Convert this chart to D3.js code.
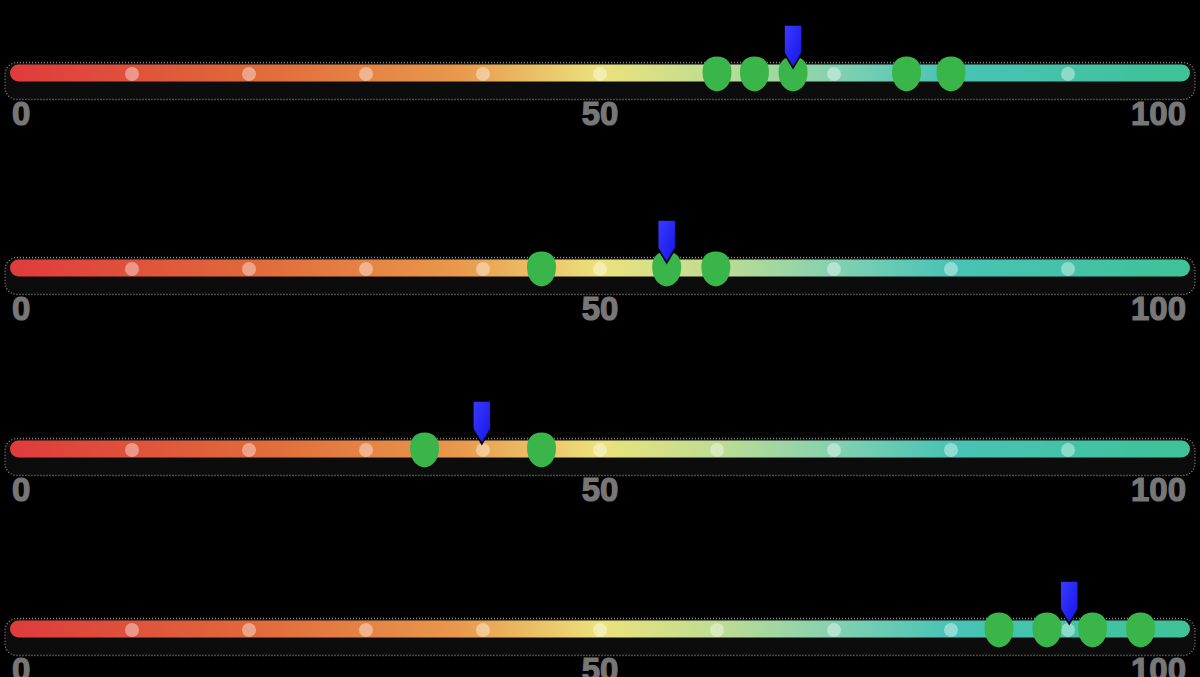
<!DOCTYPE html>
<html>
<head>
<meta charset="utf-8">
<script src="https://cdn.jsdelivr.net/npm/d3@7"></script>
<style>
  html, body { margin: 0; padding: 0; background: #000; }
  #gauges { width: 1200px; height: 677px; }
</style>
</head>
<body>
<div id="gauges"></div>
<script>

// ------------------------ data ------------------------------

var rowNames = ["row1", "row2", "row3", "row4"];
var greenMarkers = [
	[60, 63.2, 66.5, 76.2, 80],
	[45, 55.7, 59.9],
	[35, 45],
	[84.1, 88.2, 92.1, 96.2]
];
var bluePointers = [66.5, 55.7, 39.9, 90.1];
var dotValues = [10, 20, 30, 40, 50, 60, 70, 80, 90];
var tickLabels = [0, 50, 100];
var gradientStops = [
	{ offset: 0,    colour: "#df3c3c" },
	{ offset: 0.2,  colour: "#e0683a" },
	{ offset: 0.38, colour: "#e9994c" },
	{ offset: 0.5,  colour: "#ece27c" },
	{ offset: 0.6,  colour: "#bfdd92" },
	{ offset: 0.7,  colour: "#84d1b1" },
	{ offset: 0.8,  colour: "#48c3b6" },
	{ offset: 1,    colour: "#3fc298" }
];

// ------------------------ gauges ------------------------------

var build_gauges = function() {

	var width = 1200, height = 677;
	var barHeight = 17;

	var svg = d3.select("#gauges").append("svg")
			.attr("width", width)
			.attr("height", height)
			.attr("viewBox", "0 0 " + width + " " + height);

	// set the ranges
	var x = d3.scaleLinear().domain([0, 100]).range([15, 1185]);
	var rowY = [73, 268, 449, 629];   // rows are not evenly spaced in the original

	var defs = svg.append("defs");
	var grad = defs.append("linearGradient")
			.attr("id", "bar-grad")
			.attr("gradientUnits", "userSpaceOnUse")
			.attr("x1", x(0)).attr("x2", x(100)).attr("y1", 0).attr("y2", 0);
	grad.selectAll("stop")
			.data(gradientStops)
			.enter().append("stop")
				.attr("offset", function(d) { return d.offset; })
				.attr("stop-color", function(d) { return d.colour; });

	var blueGrad = defs.append("linearGradient")
			.attr("id", "blue-grad")
			.attr("x1", 0).attr("x2", 1).attr("y1", 0).attr("y2", 1);
	blueGrad.append("stop").attr("offset", 0).attr("stop-color", "#3b3bff");
	blueGrad.append("stop").attr("offset", 1).attr("stop-color", "#1414e6");

	var rows = svg.selectAll(".gauge")
			.data(rowNames)
			.enter().append("g")
			.attr("class", "gauge")
			.attr("transform", function(d, i) { return "translate(0," + rowY[i] + ")"; });

	// speckled shadow band behind the bar
	rows.append("rect")
			.attr("x", x(0) - 10)
			.attr("y", -barHeight / 2 - 2)
			.attr("width", x(100) - x(0) + 20)
			.attr("height", barHeight + 20)
			.attr("rx", 12)
			.attr("fill", "#0c0c0c")
			.attr("stroke", "#e0e0e0")
			.attr("stroke-opacity", 0.6)
			.attr("stroke-width", 1.3)
			.attr("stroke-dasharray", "1,2");

	// the gradient bar
	rows.append("rect")
			.attr("x", x(0) - 5)
			.attr("y", -barHeight / 2)
			.attr("width", x(100) - x(0) + 10)
			.attr("height", barHeight)
			.attr("rx", barHeight / 2)
			.attr("fill", "url(#bar-grad)");

	// the pale dots every 10
	rows.selectAll(".dot")
			.data(dotValues)
			.enter().append("circle")
				.attr("class", "dot")
				.attr("cx", function(d) { return x(d); })
				.attr("cy", 1)
				.attr("r", 7)
				.attr("fill", "#fff")
				.attr("fill-opacity", 0.4);

	// labels
	rows.selectAll(".lbl")
			.data(tickLabels)
			.enter().append("text")
				.attr("class", "lbl")
				.attr("x", function(d) { return d === 0 ? x(d) - 3 : d === 100 ? x(d) + 1 : x(d); })
				.attr("y", 52)
				.attr("text-anchor", function(d) { return d === 0 ? "start" : d === 100 ? "end" : "middle"; })
				.attr("font-family", "'Liberation Sans', Arial, sans-serif")
				.attr("font-weight", "bold")
				.attr("font-size", 33)
				.attr("fill", "#777")
				.attr("stroke", "#777")
				.attr("stroke-width", 1.2)
				.text(function(d) { return d; });

	// green markers
	rows.selectAll(".marker")
			.data(function(d, i) { return greenMarkers[i]; })
			.enter().append("path")
				.attr("class", "marker")
				.attr("transform", function(d) { return "translate(" + x(d) + ",1)"; })
				.attr("d", "M0,-17.5 C10,-17.5 14.5,-11 14.5,-2 C14.5,8 9.5,16.5 0,17.5 C-9.5,16.5 -14.5,8 -14.5,-2 C-14.5,-11 -10,-17.5 0,-17.5 Z")
				.attr("fill", "#3ab54a");

	// blue pointers
	rows.append("path")
			.attr("class", "pointer")
			.attr("transform", function(d, i) { return "translate(" + x(bluePointers[i]) + ",0)"; })
			.attr("d", "M-9,-48 L9,-48 L9,-20 L0,-5 L-9,-20 Z")
			.attr("fill", "url(#blue-grad)")
			.attr("stroke", "#000")
			.attr("stroke-width", 1.5)
			.attr("stroke-linejoin", "miter");

}

build_gauges();
</script>
</body>
</html>
